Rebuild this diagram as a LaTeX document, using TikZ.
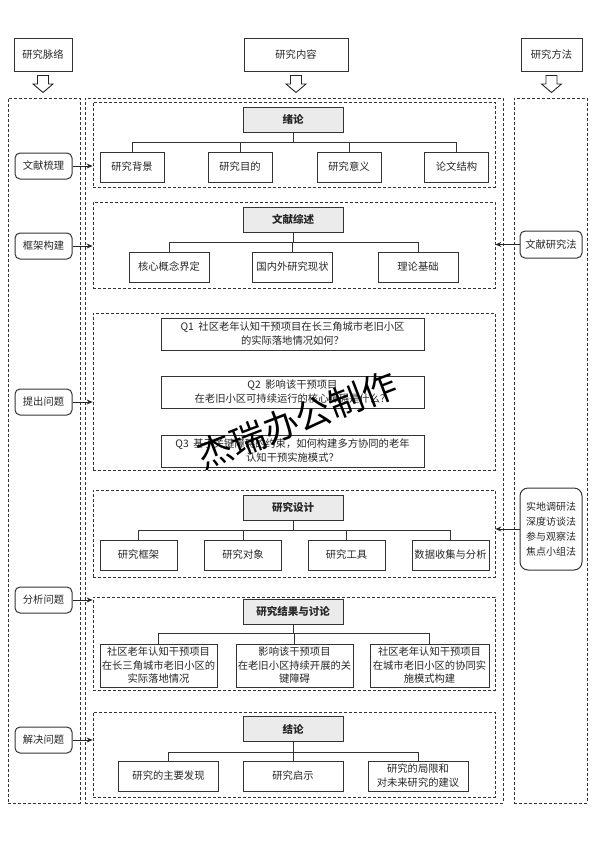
\documentclass[tikz,border=0pt]{standalone}
\usepackage{fontspec}
\setmainfont{Noto Sans CJK SC}
\usetikzlibrary{arrows.meta}
\begin{document}
\begin{tikzpicture}[x=1pt,y=-1pt,
  dsh/.style={draw=black!80, line width=0.7pt, dash pattern=on 3pt off 2pt},
  cont/.style={dsh, inner sep=0pt, minimum width=#1},
  bx/.style={draw=black!80, line width=1pt, inner sep=0.5pt, align=center,
    font=\fontsize{10.3}{14}\selectfont, text=black!85},
  ttl/.style={bx, fill=black!8, minimum width=100pt, minimum height=25pt,
    font=\fontsize{10.5}{13}\selectfont\bfseries},
  side/.style={bx, rounded corners=5pt},
  arr/.style={draw=black!85, line width=0.8pt, -{Stealth[length=6pt,width=5pt]}},
  con/.style={draw=black!80, line width=1pt},
  hol/.style={draw=black!85, line width=0.9pt, fill=white},
]
\useasboundingbox (0,0) rectangle (594,841);

% headers
\node[bx, minimum width=58pt, minimum height=33pt] (h1) at (43,54.5) {研究脉络};
\node[bx, minimum width=104pt, minimum height=33pt] (h2) at (296,54.5) {研究内容};
\node[bx, minimum width=61pt, minimum height=33pt] (h3) at (551.5,54.5) {研究方法};
\foreach \n in {h1,h2,h3}
  \draw[hol] (\n.south) ++(-5.5,4) -- ++(11,0) -- ++(0,8.5) -- ++(4.5,0) -- ++(-10,8.5)
    -- ++(-10,-8.5) -- ++(4.5,0) -- cycle;

% columns
\node[cont=72pt, minimum height=705pt] (lcol) at (44,450.5) {};
\node[cont=418pt, minimum height=705pt] (mcol) at (294,450.5) {};
\node[cont=73pt, minimum height=705pt] (rcol) at (550.5,450.5) {};

% sections
\node[cont=402pt, minimum height=85pt] (s1) at (294,144.5) {};
\node[cont=402pt, minimum height=86pt] (s2) at (294,245) {};
\node[cont=402pt, minimum height=157pt] (s3) at (294,391.5) {};
\node[cont=402pt, minimum height=87pt] (s4) at (294,533.5) {};
\node[cont=402pt, minimum height=93pt] (s5) at (294,643.5) {};
\node[cont=402pt, minimum height=85pt] (s6) at (294,754.5) {};

% section 1
\node[ttl] (t1) at (293,119.5) {绪论};
\begin{scope}[every node/.style={bx, minimum height=30pt, minimum width=64pt}]
\node (c11) at (132,167) {研究背景};
\node (c12) at (240,167) {研究目的};
\node (c13) at (349,167) {研究意义};
\node (c14) at (456.5,167) {论文结构};
\end{scope}
\coordinate (b1) at (0,142);
\draw[con] (t1.south) -- (t1.south |- b1);
\draw[con] (c11.north) -- (c11.north |- b1) -- (c14.north |- b1) -- (c14.north);
\foreach \c in {c12,c13} \draw[con] (\c.north) -- (\c.north |- b1);

% section 2
\node[ttl] (t2) at (293,219.5) {文献综述};
\begin{scope}[every node/.style={bx, minimum height=30pt, minimum width=80pt}]
\node (c21) at (169,267) {核心概念界定};
\node (c22) at (292.5,267) {国内外研究现状};
\node (c23) at (418,267) {理论基础};
\end{scope}
\coordinate (b2) at (0,242);
\draw[con] (t2.south) -- (t2.south |- b2);
\draw[con] (c21.north) -- (c21.north |- b2) -- (c23.north |- b2) -- (c23.north);
\draw[con] (c22.north) -- (c22.north |- b2);

% section 3
\begin{scope}[every node/.style={bx, minimum height=32pt, minimum width=263pt}]
\node (q1) at (292.5,334) {Q1\ \ 社区老年认知干预项目在长三角城市老旧小区\\的实际落地情况如何？};
\node (q2) at (292.5,392) {Q2\ \ 影响该干预项目\\在老旧小区可持续运行的核心障碍是什么？};
\node (q3) at (292.5,451) {Q3\ \ 基于关键障碍的约束，如何构建多方协同的老年\\认知干预实施模式？};
\end{scope}

% section 4
\node[ttl] (t4) at (293,507.5) {研究设计};
\begin{scope}[every node/.style={bx, minimum height=30pt, minimum width=77pt}]
\node (c41) at (138.5,555) {研究框架};
\node (c42) at (243,555) {研究对象};
\node (c43) at (346.5,555) {研究工具};
\node (c44) at (450.5,555) {数据收集与分析};
\end{scope}
\coordinate (b4) at (0,530);
\draw[con] (t4.south) -- (t4.south |- b4);
\draw[con] (c41.north) -- (c41.north |- b4) -- (c44.north |- b4) -- (c44.north);
\foreach \c in {c42,c43} \draw[con] (\c.north) -- (\c.north |- b4);

% section 5
\node[ttl] (t5) at (293,611.5) {研究结果与讨论};
\begin{scope}[every node/.style={bx, minimum height=43pt, minimum width=117pt,
  font=\fontsize{10.3}{13.5}\selectfont}]
\node (c51) at (158.5,665.5) {社区老年认知干预项目\\在长三角城市老旧小区的\\实际落地情况};
\node (c52) at (294.5,665.5) {影响该干预项目\\在老旧小区持续开展的关\\键障碍};
\node[minimum width=119pt] (c53) at (429.5,665.5) {社区老年认知干预项目\\在城市老旧小区的协同实\\施模式构建};
\end{scope}
\coordinate (b5) at (0,633);
\draw[con] (t5.south) -- (t5.south |- b5);
\draw[con] (c51.north) -- (c51.north |- b5) -- (c53.north |- b5) -- (c53.north);
\draw[con] (c52.north) -- (c52.north |- b5);

% section 6
\node[ttl] (t6) at (293,729) {结论};
\begin{scope}[every node/.style={bx, minimum height=30pt, minimum width=100pt}]
\node (c61) at (168.5,776) {研究的主要发现};
\node (c62) at (293,776) {研究启示};
\node (c63) at (418,776) {研究的局限和\\对未来研究的建议};
\end{scope}
\coordinate (b6) at (0,752);
\draw[con] (t6.south) -- (t6.south |- b6);
\draw[con] (c61.north) -- (c61.north |- b6) -- (c63.north |- b6) -- (c63.north);
\draw[con] (c62.north) -- (c62.north |- b6);

% left side boxes
\begin{scope}[every node/.style={side, minimum width=57pt, minimum height=26pt}]
\node (l1) at (43.5,166) {文献梳理};
\node (l2) at (43.5,246) {框架构建};
\node (l3) at (43.5,402) {提出问题};
\node (l4) at (43.5,600) {分析问题};
\node (l5) at (43.5,740) {解决问题};
\end{scope}
\draw[arr] (l1.east) -- (l1.east -| s1.west);
\draw[arr] (l2.east) -- (l2.east -| s2.west);
\draw[arr] (l3.east) -- (l3.east -| s3.west);
\draw[arr] (l4.east) -- (l4.east -| s5.west);
\draw[arr] (l5.east) -- (l5.east -| s6.west);

% right side boxes
\node[side, minimum width=62pt, minimum height=27pt] (r1) at (551,244.5) {文献研究法};
\node[side, minimum width=62pt, minimum height=82pt, rounded corners=8pt,
  font=\fontsize{10}{15}\selectfont] (r2) at (551,529) {实地调研法\\深度访谈法\\参与观察法\\焦点小组法};
\draw[arr] (r1.west) -- (r1.west -| s2.east);
\draw[arr] (r2.west) -- (r2.west -| s4.east);

% watermark
\node[rotate=21, font=\fontsize{35}{35}\selectfont, text=black, inner sep=0pt] (wm) at (297,420) {杰瑞办公制作};
\end{tikzpicture}
\end{document}
